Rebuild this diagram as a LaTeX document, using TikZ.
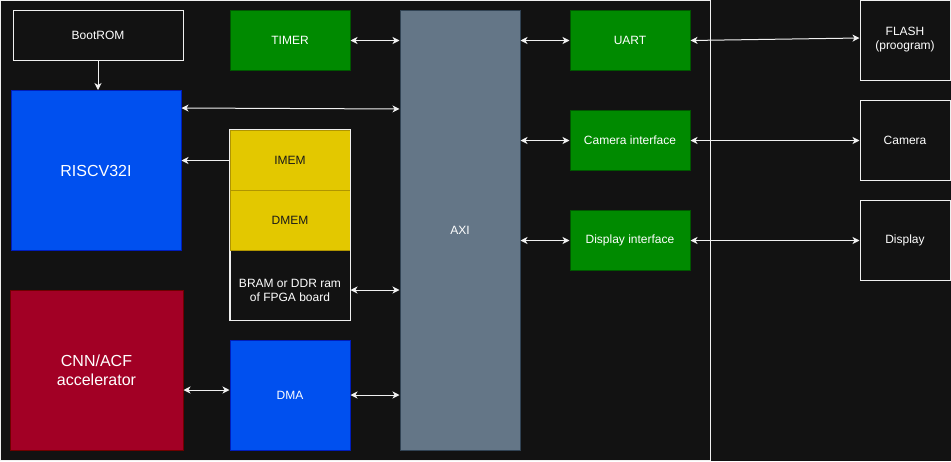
\documentclass[tikz,border=0pt]{standalone}
\usepackage{fontspec}
\setmainfont{Liberation Sans}
\usetikzlibrary{arrows.meta}
\definecolor{bg}{HTML}{121212}
\definecolor{gfill}{HTML}{008A00}
\definecolor{gline}{HTML}{005700}
\definecolor{bfill}{HTML}{0050EF}
\definecolor{bline}{HTML}{001DBC}
\definecolor{yfill}{HTML}{E3C800}
\definecolor{yline}{HTML}{B09500}
\definecolor{afill}{HTML}{647687}
\definecolor{aline}{HTML}{314354}
\definecolor{rfill}{HTML}{A20025}
\definecolor{rline}{HTML}{6F0000}
\definecolor{wline}{HTML}{F0F0F0}
\tikzset{
  box/.style={draw, line width=1pt, inner sep=0pt, align=center, text=white,
    font=\fontsize{12}{14}\selectfont},
  wbox/.style={box, draw=wline, fill=bg},
  gbox/.style={box, draw=gline, fill=gfill},
  bbox/.style={box, draw=bline, fill=bfill},
  ybox/.style={box, draw=yline, fill=yfill, text=black!90},
  big/.style={font=\fontsize{16}{19}\selectfont},
  arr/.style={draw=wline, line width=1pt, -{Stealth[length=7pt,width=7pt,inset=2pt]}},
  darr/.style={draw=wline, line width=1pt, {Stealth[length=7pt,width=7pt,inset=2pt]}-{Stealth[length=7pt,width=7pt,inset=2pt]}}
}
\begin{document}
\begin{tikzpicture}[x=1pt,y=-1pt]
\fill[bg] (0,0) rectangle (951,461);
\useasboundingbox (0,0) rectangle (951,461);
\draw[wline, line width=1pt] (0.5,0.5) rectangle (710,460);
% left column
\node[wbox, minimum width=170pt, minimum height=50pt] (boot) at (98,35.5) {BootROM};
\node[bbox, big, minimum width=170pt, minimum height=160pt] (riscv) at (96,170.5) {RISCV32I};
\node[box, big, draw=rline, fill=rfill, minimum width=173pt, minimum height=160pt] (cnn) at (96.5,370.5) {CNN/ACF\\accelerator};
% second column
\node[gbox, minimum width=120pt, minimum height=60pt] (timer) at (290,40.5) {TIMER};
\node[wbox, minimum width=120pt, minimum height=190pt] (bram) at (290,225) {};
\node[ybox, minimum width=120pt, minimum height=60pt] (imem) at (290,160.5) {IMEM};
\node[ybox, minimum width=120pt, minimum height=60pt] (dmem) at (290,220.5) {DMEM};
\draw[wline, line width=1pt] (bram.north west) rectangle (bram.south east);
\node[text=white, font=\fontsize{12}{14}\selectfont, align=center] (bramt) at (290,290.5) {BRAM or DDR ram\\of FPGA board};
\node[bbox, minimum width=120pt, minimum height=110pt] (dma) at (290,395.5) {DMA};
% AXI
\node[box, draw=aline, fill=afill, minimum width=120pt, minimum height=440pt] (axi) at (460,230.5) {AXI};
% interfaces
\node[gbox, minimum width=120pt, minimum height=60pt] (uart) at (630,40.5) {UART};
\node[gbox, minimum width=120pt, minimum height=60pt] (cam) at (630,140.5) {Camera interface};
\node[gbox, minimum width=120pt, minimum height=60pt] (disp) at (630,240.5) {Display interface};
% external
\node[wbox, minimum width=90pt, minimum height=80pt] (flash) at (905,40) {FLASH\\(proogram)};
\node[wbox, minimum width=90pt, minimum height=80pt] (camera) at (905,140.5) {Camera};
\node[wbox, minimum width=90pt, minimum height=80pt] (display) at (905,240.5) {Display};
% connectors
\draw[arr] (boot.south) -- (riscv.north -| boot.south);
\draw[darr] (riscv.east |- 0,108) -- (axi.west |- 0,109);
\draw[arr] (imem.west) -- (riscv.east |- imem.west);
\draw[darr] (bram.east |- 0,290) -- (axi.west |- 0,290);
\draw[darr] (cnn.east |- 0,390) -- (dma.west |- 0,390);
\draw[darr] (dma.east |- 0,395) -- (axi.west |- 0,395);
\draw[darr] (timer.east) -- (axi.west |- timer.east);
\draw[darr] (axi.east |- uart.west) -- (uart.west);
\draw[darr] (axi.east |- cam.west) -- (cam.west);
\draw[darr] (axi.east |- disp.west) -- (disp.west);
\draw[darr] (uart.east) -- (flash.west |- 0,38);
\draw[darr] (cam.east) -- (camera.west);
\draw[darr] (disp.east) -- (display.west);
\end{tikzpicture}
\end{document}
